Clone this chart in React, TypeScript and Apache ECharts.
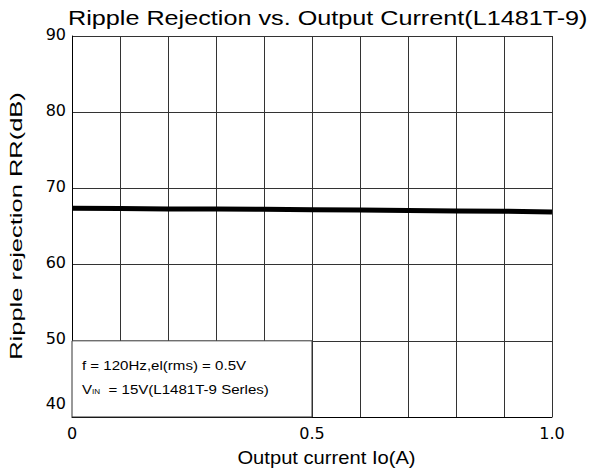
import React, { useEffect, useRef } from "react";
import * as echarts from "echarts";

const xValues = [0, 0.1, 0.2, 0.3, 0.4, 0.5, 0.6, 0.7, 0.8, 0.9, 1.0];
const rippleRR = [67.4, 67.35, 67.3, 67.3, 67.25, 67.2, 67.15, 67.1, 67.05, 67.0, 66.9];
const xTickLabels: Record<string, string> = { "0": "0", "0.5": "0.5", "1": "1.0" };
const titleText = "Ripple Rejection vs. Output Current(L1481T-9)";
const xName = "Output current Io(A)";
const yName = "Ripple rejection RR(dB)";
const noteLine1 = "f = 120Hz,el(rms) = 0.5V";
const noteLine2 = "15V(L1481T-9 Serles)";

const FONT = "'Liberation Sans', Arial, sans-serif";
const TICK_FONT = "'DejaVu Sans', sans-serif";

export default function App() {
  const ref = useRef<HTMLDivElement>(null);
  useEffect(() => {
    document.body.style.margin = "0";
    const chart = echarts.init(ref.current!, undefined, { renderer: "svg" });
    chart.setOption({
      animation: false,
      backgroundColor: "#ffffff",
      grid: { left: 72, right: 43, top: 36, bottom: 53 },
      xAxis: {
        type: "value",
        min: 0,
        max: 1,
        interval: 0.1,
        axisLine: { show: true, lineStyle: { color: "#000", width: 1 } },
        axisTick: { show: false },
        axisLabel: {
          fontFamily: TICK_FONT,
          fontSize: 16,
          color: "#000",
          margin: 8,
          formatter: (v: number) => xTickLabels[String(Math.round(v * 10) / 10)] ?? "",
        },
        splitLine: { show: true, lineStyle: { color: "#333", width: 1 } },
      },
      yAxis: {
        type: "value",
        min: 40,
        max: 90,
        interval: 10,
        axisLine: { show: true, lineStyle: { color: "#000", width: 1 } },
        axisTick: { show: false },
        axisLabel: {
          fontFamily: TICK_FONT,
          fontSize: 16,
          color: "#000",
          margin: 6,
          formatter: (v: number) => (v === 40 ? `{low|${v}}` : `{n|${v}}`),
          rich: {
            low: { fontFamily: TICK_FONT, fontSize: 16, color: "#000", padding: [0, 0, 28, 0] },
            n: { fontFamily: TICK_FONT, fontSize: 16, color: "#000", padding: [0, 0, 4, 0] },
          },
        },
        splitLine: { show: true, lineStyle: { color: "#333", width: 1 } },
      },
      series: [
        {
          type: "line",
          data: xValues.map((x, i) => [x, rippleRR[i]]),
          symbol: "none",
          lineStyle: { color: "#000", width: 5 },
          z: 3,
          markArea: {
            silent: true,
            itemStyle: { color: "#ffffff", borderColor: "#333", borderWidth: 1 },
            data: [[{ coord: [0, 40] }, { coord: [0.5, 50] }]],
          },
        },
      ],
      graphic: [
        {
          type: "text",
          x: 68,
          y: 17.5,
          scaleX: 1.2,
          style: {
            text: titleText,
            font: `21px ${FONT}`,
            fill: "#000",
            align: "left",
            verticalAlign: "middle",
          },
        },
        {
          type: "text",
          x: 326.5,
          y: 458,
          scaleX: 1.12,
          style: {
            text: xName,
            font: `18px ${FONT}`,
            fill: "#000",
            align: "center",
            verticalAlign: "middle",
          },
        },
        {
          type: "text",
          x: 16,
          y: 226,
          rotation: Math.PI / 2,
          scaleX: 1.5,
          style: {
            text: yName,
            font: `17px ${FONT}`,
            fill: "#000",
            align: "center",
            verticalAlign: "middle",
          },
        },
        {
          type: "text",
          x: 82,
          y: 365,
          scaleX: 1.16,
          z: 10,
          style: {
            text: noteLine1,
            font: `13px ${FONT}`,
            fill: "#000",
            align: "left",
            verticalAlign: "middle",
          },
        },
        {
          type: "text",
          x: 82,
          y: 389,
          scaleX: 1.16,
          z: 10,
          style: {
            text: "V{sub|IN}  = " + noteLine2,
            font: `13px ${FONT}`,
            fill: "#000",
            align: "left",
            verticalAlign: "middle",
            rich: { sub: { fontSize: 7, fontFamily: FONT, padding: [5, 0, 0, 0] } },
          },
        },
      ],
    });
    return () => chart.dispose();
  }, []);
  return <div ref={ref} style={{ width: 595, height: 470 }} />;
}
